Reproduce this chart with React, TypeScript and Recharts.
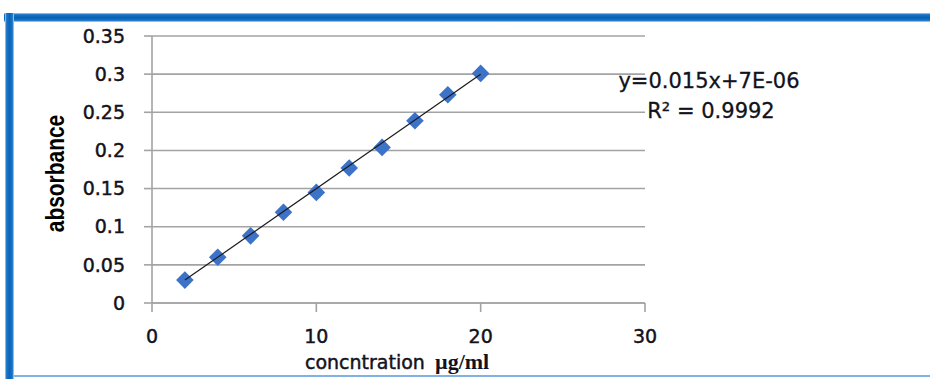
import React from 'react';
import { ScatterChart, Scatter, XAxis, YAxis, CartesianGrid } from 'recharts';

// ---- data ----
const concentration = [2, 4, 6, 8, 10, 12, 14, 16, 18, 20];
const absorbance = [0.03, 0.06, 0.088, 0.119, 0.145, 0.177, 0.204, 0.239, 0.273, 0.301];
const trendX = [2, 20];
const trendY = [0.030007, 0.300007];
const xTicks = [0, 10, 20, 30];
const yTicks = [0, 0.05, 0.1, 0.15, 0.2, 0.25, 0.3, 0.35];
const equationText = 'y=0.015x+7E-06';
const r2Text = 'R² = 0.9992';
const xTitleMain = 'concntration';
const xTitleUnit = 'µg/ml';
const yTitle = 'absorbance';

const points = concentration.map((x, i) => ({ x, y: absorbance[i] }));
const trend = trendX.map((x, i) => ({ x, y: trendY[i] }));

const MARKER = '#3d72c9';
const GRID = '#a3a3a3';
const TEXT = '#121220';
const SANS = '"DejaVu Sans", Verdana, sans-serif';
const HEAVY = { stroke: TEXT, strokeWidth: 0.45 };

const Diamond = (props: any) => {
  const { cx, cy } = props;
  if (cx == null || cy == null) return <g />;
  const r = 8.8;
  return (
    <path
      d={`M${cx},${cy - r}L${cx + r},${cy}L${cx},${cy + r}L${cx - r},${cy}Z`}
      fill={MARKER}
    />
  );
};

const NoShape = () => <g />;

const YTitle = (props: any) => {
  const vb = props.viewBox || { x: 0, y: 36, width: 152, height: 267 };
  const cx = vb.x + 55;
  const cy = vb.y + vb.height / 2 + 4;
  return (
    <text
      transform={`translate(${cx},${cy}) rotate(-90) scale(0.82,1)`}
      textAnchor="middle"
      dominantBaseline="central"
      style={{ fontFamily: '"Liberation Sans", Arial, sans-serif', fontWeight: 700, fontSize: 25.5, fill: '#000' }}
    >
      {yTitle}
    </text>
  );
};

const XTitle = (props: any) => {
  const vb = props.viewBox || { x: 152, y: 303, width: 493, height: 76 };
  const baseY = vb.y + 66;
  return (
    <text y={baseY} style={{ fill: TEXT }}>
      <tspan x={vb.x + 153} style={{ fontFamily: SANS, fontSize: 19, ...HEAVY }}>
        {xTitleMain}
      </tspan>
      <tspan
        x={vb.x + 283}
        style={{ fontFamily: '"Liberation Serif", "Times New Roman", serif', fontWeight: 700, fontSize: 22 }}
      >
        {xTitleUnit}
      </tspan>
    </text>
  );
};

export default function App() {
  return (
    <div style={{ position: 'absolute', left: 0, top: 0, width: 930, height: 379, background: '#fff', overflow: 'hidden' }}>
      {/* blue frame */}
      <div
        style={{
          position: 'absolute', left: 4, top: 13, width: 926, height: 9,
          background: 'linear-gradient(to bottom, #b9d5ee 0%, #1a74c6 18%, #0862b4 50%, #1a74c6 82%, #c9def2 100%)',
        }}
      />
      <div
        style={{
          position: 'absolute', left: 5, top: 13, width: 9, height: 366,
          background: 'linear-gradient(to right, #b9d5ee 0%, #1a74c6 18%, #0a66b8 50%, #1a74c6 82%, #c9def2 100%)',
        }}
      />
      <div style={{ position: 'absolute', left: 14, top: 375, width: 916, height: 2, background: '#7fb2e2' }} />

      <div style={{ position: 'absolute', left: 0, top: 0 }}>
        <ScatterChart width={930} height={379} margin={{ top: 36, right: 285, left: 0, bottom: 0 }}>
          <CartesianGrid horizontal vertical={false} stroke={GRID} strokeWidth={1.6} />
          <XAxis
            type="number"
            dataKey="x"
            domain={[0, 30]}
            ticks={xTicks}
            interval={0}
            height={76}
            tickSize={9}
            tickMargin={18}
            stroke={GRID}
            axisLine={{ stroke: GRID, strokeWidth: 1.6 }}
            tickLine={{ stroke: GRID, strokeWidth: 1.6 }}
            tick={{ fill: TEXT, fontSize: 19, fontFamily: SANS, ...HEAVY }}
            label={<XTitle />}
          />
          <YAxis
            type="number"
            dataKey="y"
            domain={[0, 0.35]}
            ticks={yTicks}
            interval={0}
            width={152}
            tickSize={8}
            tickMargin={19}
            stroke={GRID}
            axisLine={{ stroke: GRID, strokeWidth: 1.6 }}
            tickLine={{ stroke: GRID, strokeWidth: 1.6 }}
            tick={{ fill: TEXT, fontSize: 19, fontFamily: SANS, ...HEAVY }}
            label={<YTitle />}
          />
          <Scatter data={points} shape={<Diamond />} isAnimationActive={false} />
          <Scatter
            data={trend}
            shape={<NoShape />}
            line={{ stroke: '#1a1a1a', strokeWidth: 1.2 }}
            isAnimationActive={false}
          />
        </ScatterChart>
      </div>

      <svg width={930} height={379} style={{ position: 'absolute', left: 0, top: 0, pointerEvents: 'none' }}>
        <text x={709} y={88} textAnchor="middle" style={{ fontFamily: SANS, fontSize: 21, fill: TEXT, stroke: TEXT, strokeWidth: 0.3 }}>
          {equationText}
        </text>
        <text x={711} y={118} textAnchor="middle" style={{ fontFamily: SANS, fontSize: 21, fill: TEXT, stroke: TEXT, strokeWidth: 0.3 }}>
          {r2Text}
        </text>
      </svg>
    </div>
  );
}
